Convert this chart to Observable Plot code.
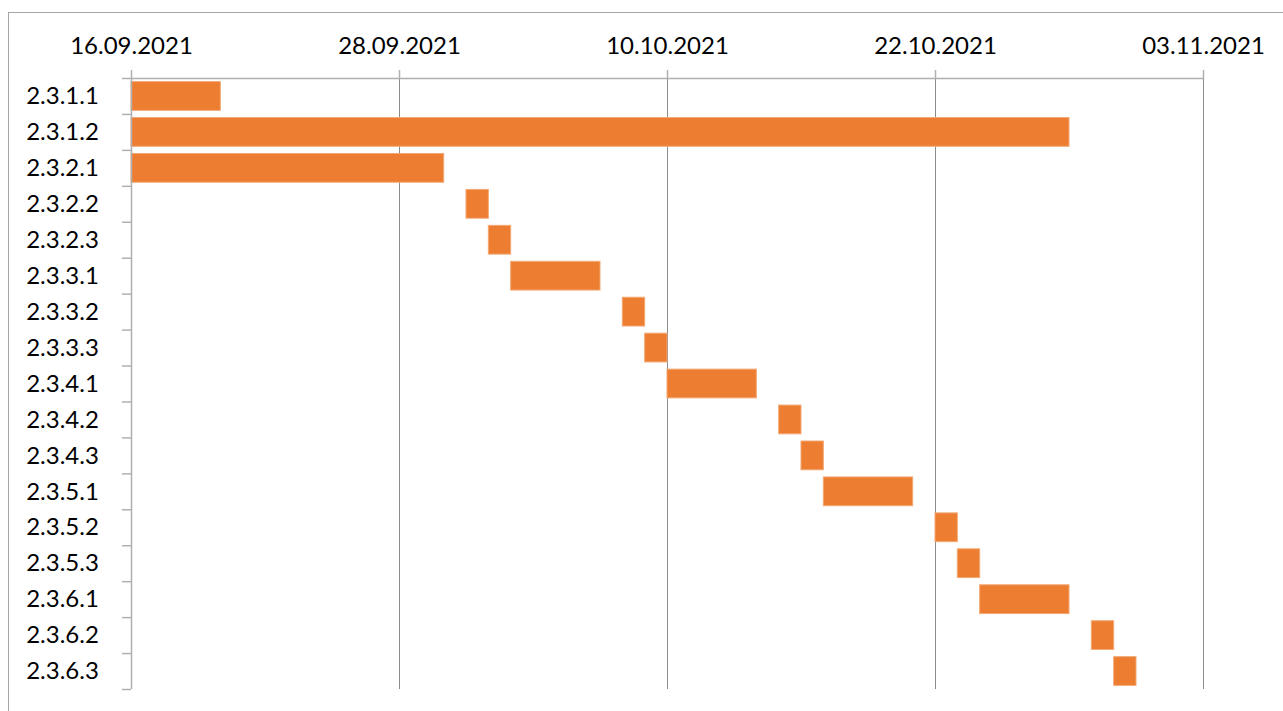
<!DOCTYPE html>
<html>
<head>
<meta charset="utf-8">
<script src="https://cdn.jsdelivr.net/npm/d3@7"></script>
<script src="https://cdn.jsdelivr.net/npm/@observablehq/plot@0.6"></script>
<style>
  html, body { margin: 0; padding: 0; background: #fff; }
  #wrap { position: relative; width: 1283px; height: 711px; overflow: hidden; }
  #border { position: absolute; left: 8px; top: 12px; width: 1400px; height: 800px; border: 1px solid #a6a6a6; box-sizing: border-box; }
  #chart { position: absolute; left: 0; top: 0; }
</style>
</head>
<body>
<div id="wrap"><div id="border"></div><div id="chart"></div></div>
<script>
const tasks = ["2.3.1.1","2.3.1.2","2.3.2.1","2.3.2.2","2.3.2.3","2.3.3.1","2.3.3.2","2.3.3.3","2.3.4.1","2.3.4.2","2.3.4.3","2.3.5.1","2.3.5.2","2.3.5.3","2.3.6.1","2.3.6.2","2.3.6.3"];
const starts = ["2021-09-16","2021-09-16","2021-09-16","2021-10-01","2021-10-02","2021-10-03","2021-10-08","2021-10-09","2021-10-10","2021-10-15","2021-10-16","2021-10-17","2021-10-22","2021-10-23","2021-10-24","2021-10-29","2021-10-30"];
const ends   = ["2021-09-20","2021-10-28","2021-09-30","2021-10-02","2021-10-03","2021-10-07","2021-10-09","2021-10-10","2021-10-14","2021-10-16","2021-10-17","2021-10-21","2021-10-23","2021-10-24","2021-10-28","2021-10-30","2021-10-31"];
const tickLabels = ["16.09.2021","28.09.2021","10.10.2021","22.10.2021","03.11.2021"];

const parseIso = d3.utcParse("%Y-%m-%d");
const parseTick = d3.utcParse("%d.%m.%Y");
const fmt = d3.utcFormat("%d.%m.%Y");
const data = tasks.map((t, i) => ({task: t, start: parseIso(starts[i]), end: parseIso(ends[i])}));
const xTicks = tickLabels.map(parseTick);
const domainX = [xTicks[0], xTicks[xTicks.length - 1]];

const W = 1283, H = 711, mTop = 78, mBottom = 22, mLeft = 131, mRight = 80;
const step = (H - mTop - mBottom) / tasks.length;
const gridColor = "#8c8c8c", axisColor = "#b0b0b0";

const plot = Plot.plot({
  width: W, height: H,
  marginTop: mTop, marginBottom: mBottom, marginLeft: mLeft, marginRight: mRight,
  style: {fontFamily: "Lato, 'Open Sans', sans-serif", fontSize: "24px", color: "#000", background: "transparent", overflow: "visible"},
  x: {type: "utc", domain: domainX, label: null},
  y: {domain: tasks, paddingInner: 0.2, paddingOuter: 0.1, round: false, label: null},
  marks: [
    Plot.gridX(xTicks, {stroke: gridColor, strokeOpacity: 1, strokeWidth: 1}),
    Plot.barX(data, {x1: "start", x2: "end", y: "task", fill: "#ED7D31", stroke: "#f3a874", strokeWidth: 1}),
    Plot.ruleY([tasks[0]], {x1: domainX[0], x2: domainX[1], dy: -step / 2, stroke: axisColor, strokeWidth: 1.5}),
    Plot.ruleX([domainX[0]], {stroke: axisColor, strokeWidth: 1.5}),
    Plot.axisX(xTicks, {anchor: "top", label: null, tickSize: 9, tickPadding: 16, tickFormat: fmt, stroke: axisColor, strokeWidth: 1.5, fill: "#000", fontSize: 24}),
    Plot.axisY(tasks, {anchor: "left", label: null, tickSize: 9, tickFormat: () => "", dy: -step / 2, stroke: axisColor, strokeWidth: 1.5}),
    Plot.axisY([tasks[tasks.length - 1]], {anchor: "left", label: null, tickSize: 9, tickFormat: () => "", dy: step / 2, stroke: axisColor, strokeWidth: 1.5}),
    Plot.axisY(tasks, {anchor: "left", label: null, tickSize: 0, tickPadding: 69, textAnchor: "middle", fill: "#000", fontSize: 24})
  ]
});
document.getElementById("chart").appendChild(plot);
</script>
</body>
</html>
